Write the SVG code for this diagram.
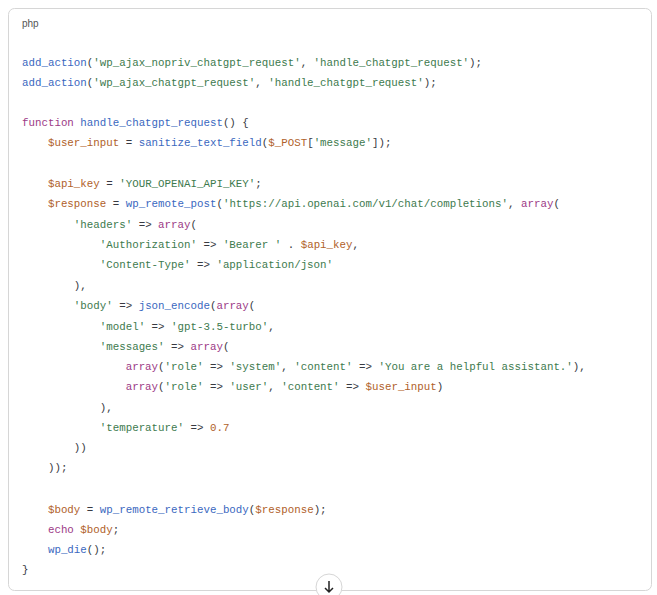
<svg xmlns="http://www.w3.org/2000/svg" width="657" height="595" viewBox="0 0 657 595">
<style>
text{font-family:"Liberation Mono","DejaVu Sans Mono",monospace;font-size:10.8px;fill:#383a42;white-space:pre}
.f{fill:#3a68c0}.s{fill:#3d7a4e}.v{fill:#b0612a}.k{fill:#9c3a86}.n{fill:#b0612a}
</style>
<rect width="657" height="595" fill="#fff"/>
<g id="box"><rect x="8.5" y="8.5" width="643" height="582" rx="6" fill="#fff" stroke="#d6d6d6"/>
<text x="22" y="27" style="font-family:'Liberation Sans',Arial,sans-serif;font-size:10px;fill:#555">php</text></g>
<g id="code">
<text x="22" y="66"><tspan class="f">add_action</tspan>(<tspan class="s">'wp_ajax_nopriv_chatgpt_request'</tspan>, <tspan class="s">'handle_chatgpt_request'</tspan>);</text>
<text x="22" y="86"><tspan class="f">add_action</tspan>(<tspan class="s">'wp_ajax_chatgpt_request'</tspan>, <tspan class="s">'handle_chatgpt_request'</tspan>);</text>
<text x="22" y="126"><tspan class="k">function</tspan> <tspan class="f">handle_chatgpt_request</tspan>() {</text>
<text x="22" y="146">    <tspan class="v">$user_input</tspan> = <tspan class="f">sanitize_text_field</tspan>(<tspan class="v">$_POST</tspan>[<tspan class="s">'message'</tspan>]);</text>
<text x="22" y="187">    <tspan class="v">$api_key</tspan> = <tspan class="s">'YOUR_OPENAI_API_KEY'</tspan>;</text>
<text x="22" y="207">    <tspan class="v">$response</tspan> = <tspan class="f">wp_remote_post</tspan>(<tspan class="s">'https://api.openai.com/v1/chat/completions'</tspan>, <tspan class="k">array</tspan>(</text>
<text x="22" y="228">        <tspan class="s">'headers'</tspan> =&gt; <tspan class="k">array</tspan>(</text>
<text x="22" y="248">            <tspan class="s">'Authorization'</tspan> =&gt; <tspan class="s">'Bearer '</tspan> . <tspan class="v">$api_key</tspan>,</text>
<text x="22" y="268">            <tspan class="s">'Content-Type'</tspan> =&gt; <tspan class="s">'application/json'</tspan></text>
<text x="22" y="289">        ),</text>
<text x="22" y="309">        <tspan class="s">'body'</tspan> =&gt; <tspan class="f">json_encode</tspan>(<tspan class="k">array</tspan>(</text>
<text x="22" y="330">            <tspan class="s">'model'</tspan> =&gt; <tspan class="s">'gpt-3.5-turbo'</tspan>,</text>
<text x="22" y="350">            <tspan class="s">'messages'</tspan> =&gt; <tspan class="k">array</tspan>(</text>
<text x="22" y="370">                <tspan class="k">array</tspan>(<tspan class="s">'role'</tspan> =&gt; <tspan class="s">'system'</tspan>, <tspan class="s">'content'</tspan> =&gt; <tspan class="s">'You are a helpful assistant.'</tspan>),</text>
<text x="22" y="390">                <tspan class="k">array</tspan>(<tspan class="s">'role'</tspan> =&gt; <tspan class="s">'user'</tspan>, <tspan class="s">'content'</tspan> =&gt; <tspan class="v">$user_input</tspan>)</text>
<text x="22" y="411">            ),</text>
<text x="22" y="431">            <tspan class="s">'temperature'</tspan> =&gt; <tspan class="n">0.7</tspan></text>
<text x="22" y="451">        ))</text>
<text x="22" y="471">    ));</text>
<text x="22" y="513">    <tspan class="v">$body</tspan> = <tspan class="f">wp_remote_retrieve_body</tspan>(<tspan class="v">$response</tspan>);</text>
<text x="22" y="533">    <tspan class="k">echo</tspan> <tspan class="v">$body</tspan>;</text>
<text x="22" y="553">    <tspan class="f">wp_die</tspan>();</text>
<text x="22" y="573">}</text>
</g>
<g id="scroll-button"><circle cx="329" cy="587" r="13" fill="#fff" stroke="#d6d6d6"/>
<path d="M329 581v11M325 588l4 4 4-4" fill="none" stroke="#222" stroke-width="1.5"/></g>
</svg>
